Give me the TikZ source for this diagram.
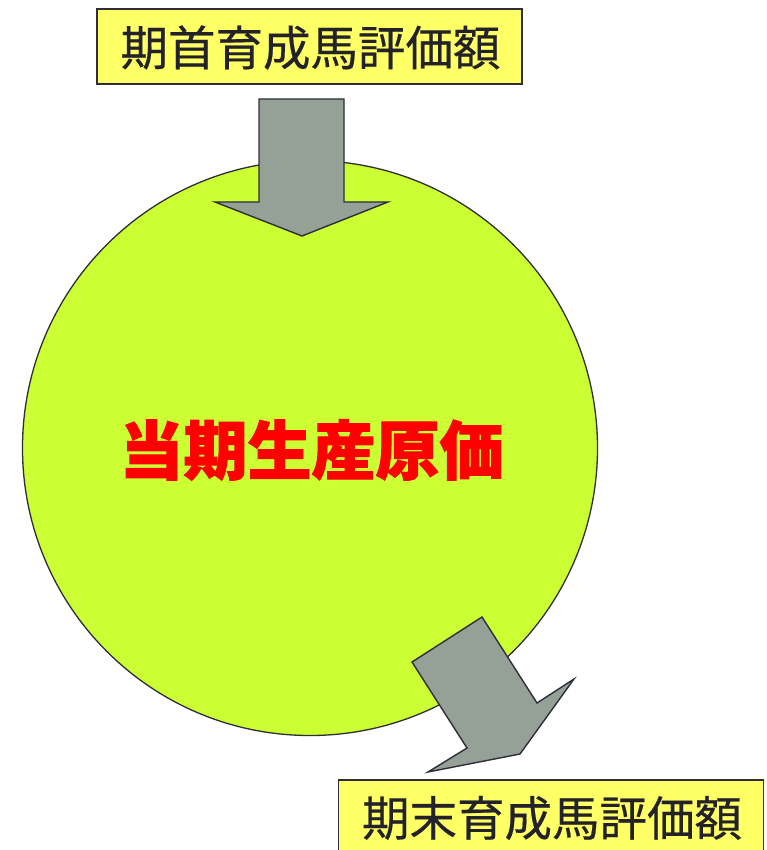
\documentclass[tikz,border=0pt]{standalone}
\usepackage{fontspec}
\newfontfamily\cjk[FakeBold=0.4]{Noto Sans CJK JP}
\newfontfamily\cjkheavy[BoldFeatures={FakeBold=1.6}]{Noto Sans CJK JP}
\definecolor{boxfill}{HTML}{FFFF66}
\definecolor{circfill}{HTML}{CCFF33}
\definecolor{arrowfill}{HTML}{95A097}
\definecolor{edge}{HTML}{2E2E38}
\definecolor{textdark}{HTML}{222228}
\definecolor{redtext}{HTML}{FF0000}
\tikzset{
  labelbox/.style={draw=edge, line width=1.4pt, fill=boxfill, minimum width=425pt, inner sep=0pt},
  labeltext/.style={text=textdark, font=\cjk\fontsize{47.5pt}{47.5pt}\selectfont, inner sep=0pt},
  bigcircle/.style={circle, draw=edge, line width=1.3pt, fill=circfill, minimum size=575pt, inner sep=0pt},
  blockarrow/.style={draw=edge, line width=1.4pt, fill=arrowfill, line join=miter}
}
\begin{document}
\begin{tikzpicture}[x=1pt,y=1pt]
\useasboundingbox (0,0) rectangle (767,-850);
% circle
\node[bigcircle] (circ) at (310,-448) {};
\node[font=\cjkheavy\bfseries\fontsize{64pt}{64pt}\selectfont, text=redtext, inner sep=0pt] (main) at (311.5,-450) {当期生産原価};
% top box
\node[labelbox, minimum height=75pt] (topbox) at (309.5,-46.5) {};
\node[labeltext] (toptext) at (310.5,-47.5) {期首育成馬評価額};
% bottom box
\node[labelbox, minimum height=78pt] (botbox) at (551,-819) {};
\node[labeltext] (bottext) at (552,-818) {期末育成馬評価額};
% top arrow
\draw[blockarrow] (259,-99) -- (344,-99) -- (344,-202) -- (388,-202) -- (302,-236) -- (215,-202) -- (259,-202) -- cycle;
% bottom arrow
\draw[blockarrow] (482,-617) -- (537,-703) -- (574,-679) -- (520,-754) -- (428,-772) -- (467,-748) -- (412,-662) -- cycle;
\end{tikzpicture}
\end{document}
